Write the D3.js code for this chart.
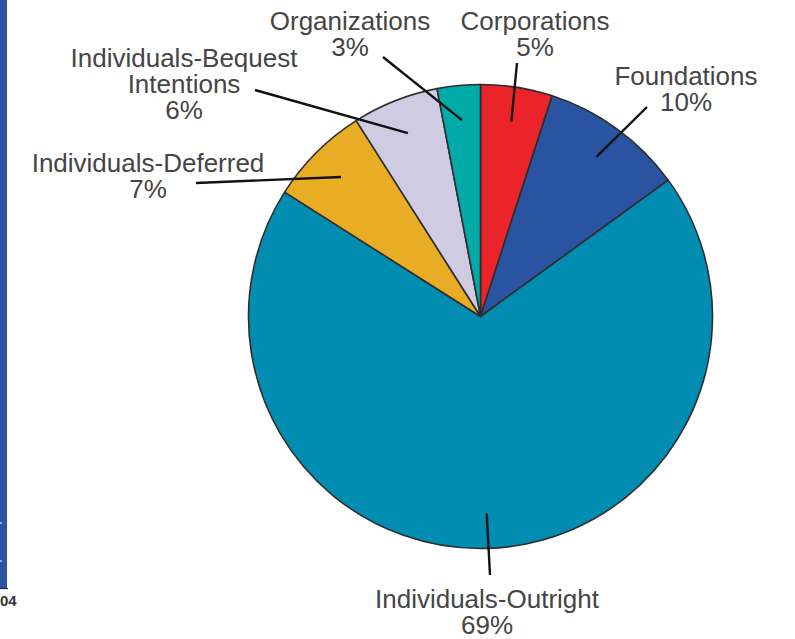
<!DOCTYPE html>
<html>
<head>
<meta charset="utf-8">
<script src="https://cdn.jsdelivr.net/npm/d3@7"></script>
<style>
  html, body { margin: 0; padding: 0; background: #ffffff; }
  svg { display: block; }
  text { font-family: "Liberation Sans", Arial, Helvetica, sans-serif; }
</style>
</head>
<body>
<svg id="chart" width="795" height="639"></svg>
<script>
// Sources of contributions, clockwise from 12 o'clock
const categories = ["Corporations", "Foundations", "Individuals-Outright",
                    "Individuals-Deferred", "Individuals-Bequest Intentions", "Organizations"];
const shares = [5, 10, 69, 7, 6, 3];
const sliceColors = ["#ea2429", "#2a53a1", "#008db1", "#e9ac25", "#cfcbe2", "#00aaa6"];

// Label text lines (name lines + percentage)
const labelLines = [
  ["Corporations"],
  ["Foundations"],
  ["Individuals-Outright"],
  ["Individuals-Deferred"],
  ["Individuals-Bequest", "Intentions"],
  ["Organizations"]
];

// Label placement: text centre / first baseline, and where the leader line ends
const labelLayout = [
  { x: 535, y: 30,  lx: 517, ly: 63 },
  { x: 686, y: 85,  lx: 647, ly: 107 },
  { x: 487, y: 608, lx: 490, ly: 575 },
  { x: 148, y: 172, lx: 196, ly: 183 },
  { x: 184, y: 67,  lx: 255, ly: 90 },
  { x: 350, y: 30,  lx: 383, ly: 57 }
];

const svg = d3.select("#chart");
const cx = 480.5, cy = 316.5, radius = 232;

// Side band with its small marks and the year fragment below it
svg.append("rect").attr("x", 0).attr("y", 0).attr("width", 7).attr("height", 588).attr("fill", "#2b54a3");
svg.append("line").attr("x1", 0).attr("x2", 8).attr("y1", 588.5).attr("y2", 588.5)
   .attr("stroke", "#1c2a4a").attr("stroke-width", 1.2);
[523, 561].forEach(y => {
  svg.append("line").attr("x1", 0).attr("x2", 2).attr("y1", y).attr("y2", y)
     .attr("stroke", "#ffffff").attr("stroke-width", 1);
});
svg.append("text").attr("x", 0).attr("y", 606)
   .attr("font-size", 15).attr("font-weight", "bold").attr("fill", "#333")
   .text("04");

const pie = d3.pie().sort(null).value(d => d).startAngle(0).endAngle(2 * Math.PI);
const arcs = pie(shares);
const arc = d3.arc().innerRadius(0).outerRadius(radius);

const g = svg.append("g").attr("transform", `translate(${cx},${cy})`);

g.selectAll("path.slice")
  .data(arcs)
  .join("path")
  .attr("class", "slice")
  .attr("d", arc)
  .attr("fill", (d, i) => sliceColors[i])
  .attr("stroke", "#2e2e2e")
  .attr("stroke-width", 1.6)
  .attr("stroke-linejoin", "round");

// Leader lines from inside each slice out to its label
const innerArc = d3.arc().innerRadius(radius * 0.85).outerRadius(radius * 0.85);
arcs.forEach((d, i) => {
  const [px, py] = innerArc.centroid(d);
  const L = labelLayout[i];
  svg.append("line")
    .attr("x1", cx + px).attr("y1", cy + py)
    .attr("x2", L.lx).attr("y2", L.ly)
    .attr("stroke", "#111").attr("stroke-width", 2.4);
});

// Labels, one text element per line
arcs.forEach((d, i) => {
  const L = labelLayout[i];
  const lines = labelLines[i].concat([shares[i] + "%"]);
  lines.forEach((s, k) => {
    svg.append("text")
      .attr("x", L.x).attr("y", L.y + k * 26)
      .attr("text-anchor", "middle")
      .attr("font-size", 26)
      .attr("fill", "#454545")
      .text(s);
  });
});
</script>
</body>
</html>
